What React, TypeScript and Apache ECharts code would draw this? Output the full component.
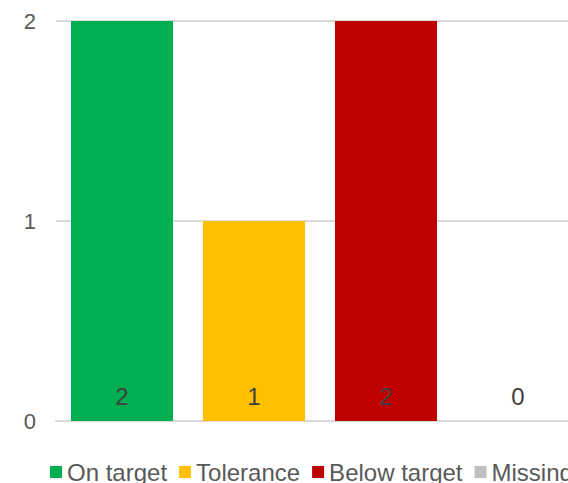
import React, { useEffect, useRef } from "react";
import * as echarts from "echarts";

const categories = ["On target", "Tolerance", "Below target", "Missing"];
const seriesNames = ["On target", "Tolerance", "Below target", "Missing"];
const values = [2, 1, 2, 0];
const colors = ["#00B050", "#FFC000", "#C00000", "#BFBFBF"];
const yTicks = { min: 0, max: 2, interval: 1 };

export default function App() {
  const ref = useRef<HTMLDivElement>(null);
  useEffect(() => {
    if (!ref.current) return;
    const chart = echarts.init(ref.current, undefined, { renderer: "svg" });
    const font = "'Liberation Sans', Arial, sans-serif";
    chart.setOption({
      animation: false,
      textStyle: { fontFamily: font },
      grid: { left: 56, right: 36, top: 21, bottom: 62, containLabel: false },
      legend: {
        data: seriesNames,
        left: 45,
        top: 455,
        padding: 5,
        icon: "rect",
        itemWidth: 12,
        itemHeight: 12,
        itemGap: 12,
        textStyle: { color: "#595959", fontSize: 24, fontFamily: font },
      },
      xAxis: {
        type: "category",
        data: categories,
        axisLine: { show: true, lineStyle: { color: "#D9D9D9", width: 2 } },
        axisTick: { show: false },
        axisLabel: { show: false },
      },
      yAxis: {
        type: "value",
        min: yTicks.min,
        max: yTicks.max,
        interval: yTicks.interval,
        axisLine: { show: false },
        axisTick: { show: false },
        axisLabel: { color: "#595959", fontSize: 22, margin: 20, fontFamily: font },
        splitLine: { lineStyle: { color: "#D9D9D9", width: 2 } },
      },
      series: seriesNames.map((name, i) => ({
        name,
        type: "bar",
        stack: "total",
        barWidth: 102,
        itemStyle: { color: colors[i] },
        data: categories.map((_, j) => (j === i ? values[i] : "-")),
        label: {
          show: true,
          position: "insideBottom",
          distance: 13,
          color: "#404040",
          fontSize: 24,
          fontFamily: font,
        },
      })),
    });
    return () => chart.dispose();
  }, []);
  return (
    <div style={{ position: "fixed", left: 0, top: 0, width: 568, height: 483, overflow: "hidden", background: "#fff" }}>
      <div ref={ref} style={{ width: 620, height: 483 }} />
    </div>
  );
}
